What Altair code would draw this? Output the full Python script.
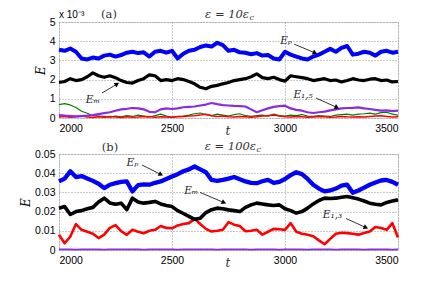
import math
import altair as alt
import pandas as pd

# ---------------- data ----------------
T = list(range(2000, 3501, 25))

# panel (a): values in units of 1e-3
a_Ep = [3.55, 3.5, 3.62, 3.45, 3.1, 3.05, 3.15, 3.1, 3.25, 3.3, 3.2, 3.28, 3.4, 3.45, 3.38, 3.42,
        3.2, 3.45, 3.5, 3.4, 3.5, 3.1, 3.35, 3.5, 3.55, 3.7, 3.78, 3.72, 3.92, 3.8, 3.5, 3.55,
        3.42, 3.4, 3.32, 3.38, 3.25, 3.28, 3.1, 3.05, 3.45, 3.3, 3.2, 3.1, 3.05, 3.2, 3.3, 3.45,
        3.6, 3.45, 3.65, 3.75, 3.3, 3.35, 3.45, 3.4, 3.25, 3.45, 3.5, 3.4, 3.45]
a_Em = [1.85, 1.9, 2.05, 1.95, 2.0, 2.15, 2.35, 2.2, 2.12, 2.2, 2.1, 1.95, 1.85, 1.82, 1.95, 2.05,
        2.25, 2.2, 1.95, 2.0, 1.95, 2.05, 2.0, 1.9, 1.78, 1.6, 1.52, 1.65, 1.7, 1.78, 1.85, 1.95,
        2.0, 2.05, 2.15, 2.3, 2.1, 2.05, 2.12, 2.0, 1.92, 2.2, 2.15, 2.1, 2.05, 1.95, 2.0, 2.05,
        1.95, 1.98, 1.88, 1.95, 2.05, 1.98, 1.95, 2.02, 2.05, 1.95, 1.98, 1.88, 1.9]
a_E15 = [0.15, 0.12, 0.1, 0.08, 0.1, 0.12, 0.15, 0.2, 0.25, 0.3, 0.38, 0.45, 0.48, 0.52, 0.5, 0.45,
         0.32, 0.3, 0.45, 0.5, 0.47, 0.5, 0.56, 0.58, 0.6, 0.65, 0.7, 0.78, 0.72, 0.67, 0.65, 0.63,
         0.62, 0.6, 0.45, 0.3, 0.4, 0.5, 0.58, 0.62, 0.64, 0.5, 0.42, 0.38, 0.3, 0.26, 0.3, 0.33,
         0.4, 0.45, 0.5, 0.52, 0.53, 0.55, 0.5, 0.47, 0.42, 0.38, 0.4, 0.36, 0.38]
a_green = [0.7, 0.75, 0.68, 0.55, 0.35, 0.25, 0.12, 0.1, 0.08, 0.05, 0.1, 0.06, 0.12, 0.08, 0.15, 0.1,
           0.05, 0.12, 0.2, 0.1, 0.05, 0.08, 0.1, 0.15, 0.22, 0.26, 0.18, 0.12, 0.2, 0.15, 0.1, 0.18,
           0.22, 0.12, 0.08, 0.12, 0.15, 0.1, 0.2, 0.12, 0.1, 0.15, 0.12, 0.18, 0.1, 0.08, 0.12, 0.1,
           0.08, 0.15, 0.18, 0.2, 0.15, 0.2, 0.22, 0.25, 0.2, 0.28, 0.3, 0.2, 0.15]
a_red = [0.05, 0.08, 0.04, 0.06, 0.1, 0.05, 0.03, 0.06, 0.04, 0.08, 0.05, 0.03, 0.06, 0.04, 0.05, 0.08,
         0.06, 0.04, 0.07, 0.05, 0.04, 0.06, 0.08, 0.1, 0.12, 0.15, 0.2, 0.12, 0.08, 0.1, 0.06, 0.05,
         0.08, 0.06, 0.04, 0.06, 0.1, 0.12, 0.15, 0.1, 0.06, 0.05, 0.08, 0.06, 0.04, 0.05, 0.08, 0.06,
         0.04, 0.05, 0.08, 0.06, 0.05, 0.07, 0.05, 0.08, 0.1, 0.12, 0.08, 0.05, 0.06]

# panel (b)
b_Ep = [.0357, .0372, .041, .038, .0385, .0372, .036, .0345, .0322, .034, .0348, .0355, .0357, .0305,
        .0338, .0342, .034, .035, .0357, .037, .0383, .0395, .041, .042, .0435, .042, .0405, .0365,
        .036, .0365, .0372, .038, .0368, .0357, .035, .0348, .0358, .0365, .035, .0355, .037, .039,
        .0405, .0395, .037, .034, .032, .0305, .031, .032, .0335, .034, .0298, .031, .0325, .034,
        .0352, .0362, .0365, .0355, .034]
b_Em = [.0218, .0226, .0185, .02, .0205, .0215, .0222, .025, .027, .0245, .0238, .0244, .021, .027,
        .025, .0244, .0248, .0253, .024, .0232, .0226, .0205, .019, .0175, .016, .0165, .0195, .021,
        .0218, .0215, .0209, .0205, .02, .0222, .0235, .0244, .024, .0235, .0232, .0235, .0215, .0205,
        .0192, .02, .0218, .024, .0258, .027, .0268, .027, .0275, .0279, .0272, .0265, .0255, .0244,
        .0238, .0235, .0248, .0255, .0261]
b_E13 = [.0079, .0035, .007, .0135, .0105, .0095, .0085, .0062, .008, .0115, .013, .0098, .0079, .0105,
         .0095, .0087, .01, .0105, .0125, .0115, .0113, .0128, .0135, .014, .0162, .0135, .011, .0096,
         .01, .0105, .0145, .0132, .0125, .0098, .01, .0105, .008, .0095, .011, .0108, .0105, .014,
         .0095, .0085, .0079, .0072, .005, .003, .0058, .0085, .009, .0088, .0085, .008, .0088, .0096,
         .012, .0115, .0105, .014, .0065]
b_purple = [.0003, .0004, .0003, .0002, .0003, .0004, .0003, .0003, .0002, .0003, .0004, .0003, .0003,
            .0004, .0003, .0002, .0003, .0003, .0004, .0003, .0003, .0002, .0003, .0004, .0003, .0003,
            .0004, .0003, .0002, .0003, .0003, .0004, .0003, .0003, .0002, .0003, .0004, .0003, .0003,
            .0002, .0003, .0004, .0003, .0003, .0002, .0003, .0004, .0003, .0003, .0002, .0003, .0004,
            .0003, .0003, .0002, .0003, .0004, .0003, .0003, .0002, .0003]

A_MAX = 5
B_MAX = 0.05
W, H = 339, 96
T0, T1 = 2000, 3500

SERIF = "DejaVu Serif"
SANS = "Liberation Sans"

xscale = alt.Scale(domain=[T0, T1], nice=False, zero=False)
xaxis = alt.Axis(values=[2000, 2500, 3000, 3500], format="d", title=None, ticks=False,
                 labelPadding=5, labelFont=SANS, labelFontSize=10.5, labelColor="black",
                 labelOverlap=False, grid=True, gridColor="#777", gridDash=[1, 2],
                 gridWidth=0.8, domain=False)


def yaxis(values, **kw):
    return alt.Axis(values=values, title="E", titleFont=SERIF, titleFontStyle="italic",
                    titleFontSize=12, titleFontWeight="normal", titlePadding=2, ticks=False,
                    labelPadding=4, labelFont=SANS, labelFontSize=10.5, labelColor="black",
                    labelOverlap=False, grid=True, gridColor="#777", gridDash=[1, 2],
                    gridWidth=0.8, domain=False, **kw)


class Panel:
    def __init__(self, ymax, axis):
        self.ymax = ymax
        self.ys = alt.Scale(domain=[0, ymax], nice=False)
        self.ax = axis

    def X(self, f="t:Q"):
        return alt.X(f, scale=xscale, axis=xaxis)

    def Y(self, f="E:Q"):
        return alt.Y(f, scale=self.ys, axis=self.ax)

    def line(self, vals, color, width):
        df = pd.DataFrame({"t": T, "E": vals})
        return alt.Chart(df).mark_line(color=color, strokeWidth=width,
                                       strokeJoin="round").encode(x=self.X(), y=self.Y())

    def arrow(self, t1, e1, t2, e2):
        dx = (t2 - t1) * W / (T1 - T0)
        dy = -(e2 - e1) * H / self.ymax
        ang = math.degrees(math.atan2(dx, -dy)) % 360
        seg = pd.DataFrame({"t": [t1], "E": [e1], "t2": [t2], "E2": [e2]})
        r = alt.Chart(seg).mark_rule(color="black", strokeWidth=0.8).encode(
            x=self.X(), y=self.Y(), x2="t2:Q", y2="E2:Q")
        hd = pd.DataFrame({"t": [t2], "E": [e2]})
        h = alt.Chart(hd).mark_point(shape="triangle-up", filled=True, color="black", size=28,
                                     angle=ang, opacity=1).encode(x=self.X(), y=self.Y())
        return r + h

    def label(self, t, e, s):
        df = pd.DataFrame({"t": [t], "E": [e], "s": [s]})
        return alt.Chart(df).mark_text(font=SERIF, fontStyle="italic", fontSize=10.5,
                                       color="#222", align="center",
                                       baseline="middle").encode(x=self.X(), y=self.Y(),
                                                                 text="s:N")


def fixed_text(x, y, s, font=SERIF, size=12, style="normal", align="center", color="#333"):
    return alt.Chart(pd.DataFrame({"s": [s]})).mark_text(
        font=font, fontSize=size, fontStyle=style, align=align, baseline="middle", color=color
    ).encode(x=alt.value(x), y=alt.value(y), text="s:N")


# ---------------- panel (a) ----------------
pa = Panel(A_MAX, yaxis([0, 1, 2, 3, 4, 5], format="d"))
panel_a = alt.layer(
    pa.line(a_green, "#008000", 1.2),
    pa.line(a_red, "#FF0000", 1.5),
    pa.line(a_E15, "#8A2BE2", 2.2),
    pa.line(a_Em, "black", 3.2),
    pa.line(a_Ep, "#0000FF", 4.0),
    pa.arrow(3040, 3.85, 3133, 3.39), pa.label(3005, 4.0, "Eₚ"),
    pa.arrow(2190, 1.3, 2257, 1.77), pa.label(2150, 0.94, "Eₘ"),
    pa.arrow(3137, 1.04, 3230, 0.55), pa.label(3080, 1.2, "E₁,₅"),
    fixed_text(0, -7, "x 10⁻³", font=SANS, size=10, align="left", color="black"),
    fixed_text(50, -7, "(a)", size=11.5),
    fixed_text(190, -7, "ε = 10ε", size=11.5, style="italic", align="right"),
    fixed_text(190.5, -4, "c", size=8, style="italic", align="left"),
    fixed_text(169, H + 12.5, "t", size=12, style="italic"),
).properties(width=W, height=H)

# ---------------- panel (b) ----------------
pb = Panel(B_MAX, yaxis([0, 0.01, 0.02, 0.03, 0.04, 0.05],
                        labelExpr="datum.value == 0 ? '0' : format(datum.value, '.2f')"))
panel_b = alt.layer(
    pb.line(b_purple, "#8A2BE2", 1.6),
    pb.line(b_E13, "#FF0000", 2.6),
    pb.line(b_Em, "black", 3.6),
    pb.line(b_Ep, "#0000FF", 4.3),
    pb.arrow(2367, 0.0443, 2451, 0.0393), pb.label(2325, 0.0455, "Eₚ"),
    pb.arrow(2624, 0.0300, 2730, 0.0247), pb.label(2585, 0.0305, "Eₘ"),
    pb.arrow(3270, 0.0164, 3358, 0.0117), pb.label(3210, 0.0180, "E₁,₃"),
    fixed_text(51, -6, "(b)", size=11.5),
    fixed_text(197, -7, "ε = 100ε", size=11.5, style="italic", align="right"),
    fixed_text(197.5, -4, "c", size=8, style="italic", align="left"),
    fixed_text(169, H + 13, "t", size=12, style="italic"),
).properties(width=W, height=H)

chart = alt.vconcat(panel_a, panel_b, spacing=36, bounds="flush").properties(
    padding={"left": 11, "top": 0, "right": 5, "bottom": 5}
).configure_view(stroke="black", strokeWidth=1).configure(background="white")

chart.save("out.html", embed_options={"renderer": "svg", "actions": False})
